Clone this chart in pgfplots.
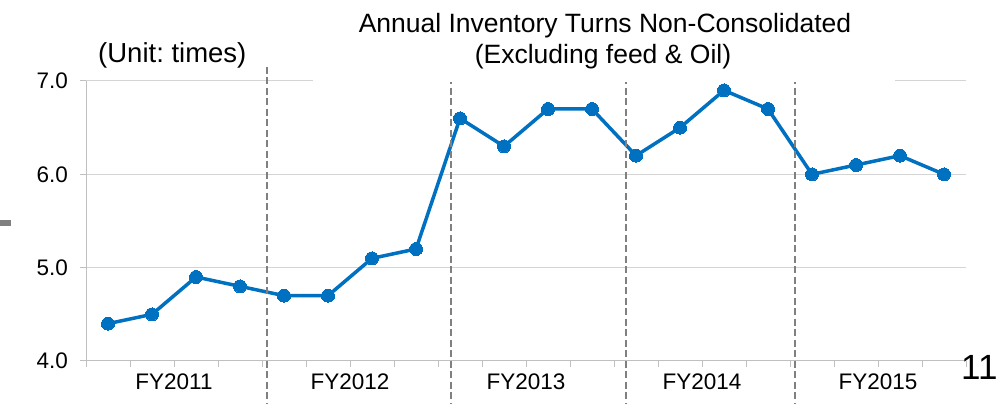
\documentclass[border=0pt]{standalone}
\usepackage{fontspec}
\setmainfont{Liberation Sans}
\usepackage{pgfplots}
\pgfplotsset{compat=1.18}
\frenchspacing
\definecolor{lineblue}{HTML}{0070C0}
\definecolor{dashgray}{HTML}{808080}
\definecolor{gridgray}{HTML}{D4D4D4}
\definecolor{axisgray}{HTML}{C0C0C0}
\begin{document}
\begin{tikzpicture}[x=1pt,y=1pt]
\path[use as bounding box] (0,0) rectangle (999,404);
\begin{axis}[
  at={(86pt,43pt)}, anchor=south west,
  width=880pt, height=280pt, scale only axis,
  xmin=-0.5, xmax=19.5, ymin=4, ymax=7,
  axis x line*=bottom, axis y line*=left,
  axis line style={-, color=axisgray, line width=1pt},
  tick align=outside, major tick length=6pt,
  tick style={color=axisgray, line width=1pt},
  ytick={4,5,6,7},
  /pgf/number format/fixed, /pgf/number format/fixed zerofill,
  /pgf/number format/precision=1, /pgf/number format/assume math mode=true,
  yticklabel style={font=\fontsize{22.5}{26}\selectfont, inner sep=0pt, anchor=east, xshift=-12pt},
  xtick={-0.5,0.5,...,19.5}, xticklabels={},
  extra x ticks={1.5,5.5,9.5,13.5,17.5},
  extra x tick labels={FY2011,FY2012,FY2013,FY2014,FY2015},
  extra x tick style={major tick length=0pt, grid=none,
    xticklabel style={font=\fontsize{22.5}{26}\selectfont, anchor=base, inner sep=0pt, yshift=-29pt}},
  ymajorgrids, grid style={color=gridgray, line width=1pt},
  clip=false,
]
\addplot[color=lineblue, line width=3.5pt, mark=*, mark size=6.5pt,
  mark options={fill=lineblue, draw=lineblue, line width=0pt}]
  coordinates {
  (0,4.4) (1,4.5) (2,4.9) (3,4.8)
  (4,4.7) (5,4.7) (6,5.1) (7,5.2)
  (8,6.6) (9,6.3) (10,6.7) (11,6.7)
  (12,6.2) (13,6.5) (14,6.9) (15,6.7)
  (16,6.0) (17,6.1) (18,6.2) (19,6.0)
  };
\end{axis}
% group separators
\foreach \xx in {267,451,626,795}{
  \draw[dashgray, line width=2.8pt, dash pattern=on 7pt off 3.5pt] (\xx,337) -- (\xx,0);
}
% title background
\fill[white] (313,321.5) rectangle (895,404);
\node[anchor=base, inner sep=0pt, font=\fontsize{26.5}{30}\selectfont] at (605,371) {Annual Inventory Turns Non-Consolidated};
\node[anchor=base, inner sep=0pt, font=\fontsize{26.5}{30}\selectfont] at (603,340) {(Excluding feed \& Oil)};
\node[anchor=base west, inner sep=0pt, font=\fontsize{27.5}{30}\selectfont] at (98,341) {(Unit: times)};
\node[anchor=base west, inner sep=0pt, font=\fontsize{35}{38}\selectfont] at (961,24) {11};
\fill[dashgray] (0,178) rectangle (11,184);
\end{tikzpicture}
\end{document}
